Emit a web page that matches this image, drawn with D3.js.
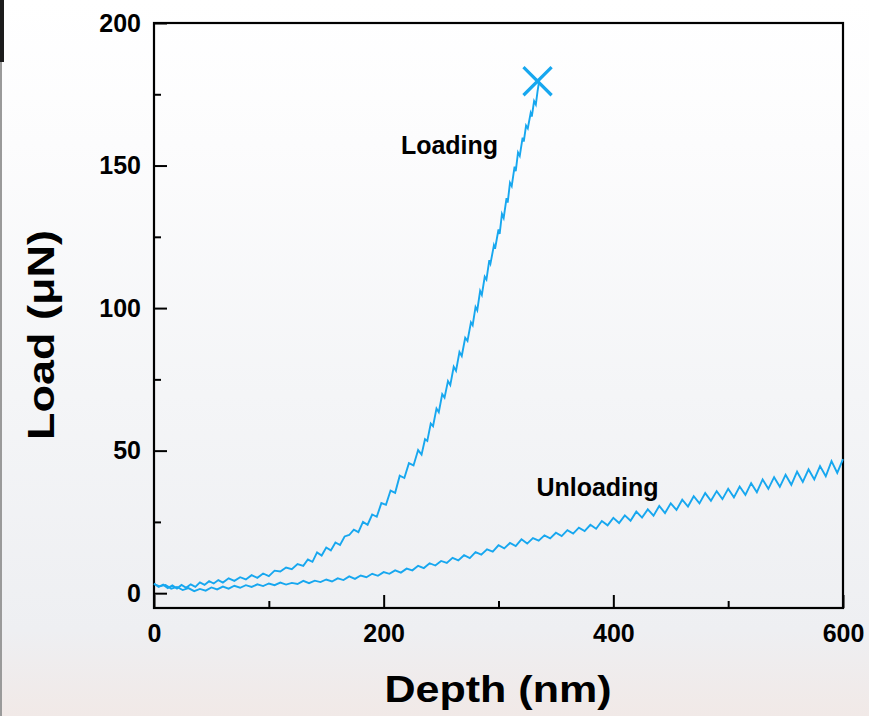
<!DOCTYPE html>
<html>
<head>
<meta charset="utf-8">
<script src="https://cdn.jsdelivr.net/npm/d3@7"></script>
<style>
  body { margin: 0; background: #f5f5f7; }
  .chart { width: 869px; height: 716px; }
  text { font-family: "Liberation Sans", Arial, sans-serif; font-weight: bold; fill: #000; }
  .tick line { stroke: #000; stroke-width: 2; }
  .domain { stroke: none; }
</style>
</head>
<body>
<div class="chart"></div>
<script>
// depth (nm), load (uN)
var loading = [
  [0,3.4],[4,2.2],[8,3.0],[12,1.8],[16,2.7],[20,1.6],[24,2.9],[28,1.9],[32,3.1],[36,2.2],
  [40,3.8],[44,2.9],[48,4.2],[52,3.4],[56,4.6],[60,3.7],[65,5.2],[70,4.3],[75,5.6],[80,4.8],
  [85,6.3],[90,5.4],[95,6.9],[100,6.0],[105,7.9],[110,7.6],[115,9.0],[120,8.4],[125,10.2],[130,9.6],
  [134,11.8],[138,11.0],[142,14.3],[146,13.2],[150,16.0],[154,15.0],[158,17.8],[162,16.9],[166,19.9],[170,20.4],
  [174,22.3],[178,21.4],[182,25.0],[186,24.0],[190,27.6],[194,26.8],[198,31.6],[202,31.0],[206,36.0],[210,35.2],
  [214,41.2],[218,40.4],[222,45.6],[226,44.8],[230,50.2],[233,48.6],[236,54.0],[238,53.4],[241,59.5],[243,58.6],
  [246,64.8],[248,63.5],[251,69.8],[253,68.6],[256,74.4],[258,73.0],[261,79.4],[263,78.0],[266,84.6],[268,83.2],
  [271,89.6],[273,88.5],[276,95.0],[277.5,94.0],[280,100.4],[281.5,99.2],[284,106.0],[285.5,104.6],[288,111.0],[289.5,110.0],
  [292,116.8],[293,115.6],[296,122.0],[297,120.8],[300,127.6],[301,126.0],[303,133.0],[304.5,131.6],[307,138.6],[308,137.0],
  [310,144.0],[311.5,142.8],[314,149.6],[315,148.0],[317,154.6],[318.5,153.4],[321,159.8],[322,158.4],[324,164.0],[325.5,163.0],
  [328,168.4],[329,167.2],[331,172.6],[332.5,171.4],[334,176.0],[335,178.6]
];

var unloading = [
  [0,3.2],[5,2.4],[10,2.9],[15,1.6],[20,2.2],[25,1.1],[30,1.8],[35,0.7],[40,1.5],[45,0.9],
  [50,2.0],[55,1.3],[60,2.3],[65,1.6],[70,2.6],[75,1.9],[80,2.8],[85,2.2],[90,3.1],[95,2.5],
  [100,3.4],[105,2.8],[110,3.7],[115,3.0],[120,3.6],[125,3.2],[130,4.3],[135,3.5],[140,4.4],[145,3.9],
  [150,4.8],[155,4.1],[160,5.2],[165,4.6],[170,5.9],[175,5.0],[180,6.2],[185,5.6],[190,6.8],[195,6.1],
  [200,7.4],[205,6.8],[210,8.0],[215,7.2],[220,8.6],[225,8.0],[230,9.6],[235,8.8],[240,10.5],[245,9.7],
  [250,11.3],[255,10.6],[260,12.4],[265,11.5],[270,13.3],[275,12.3],[280,14.4],[285,13.5],[290,15.4],[295,14.6],
  [300,16.8],[305,15.7],[310,17.6],[315,16.5],[320,18.9],[325,17.4],[330,19.3],[335,18.4],[340,20.3],[345,19.2],
  [350,21.2],[355,20.0],[360,22.1],[365,20.9],[370,23.0],[375,21.8],[380,24.0],[385,22.6],[390,25.3],[395,23.8],
  [400,26.4],[405,24.6],[410,27.3],[415,25.4],[420,28.6],[425,26.5],[430,29.4],[435,27.2],[440,30.6],[445,28.1],
  [450,31.5],[455,29.2],[460,32.8],[465,30.4],[470,34.0],[475,31.5],[480,35.1],[485,32.4],[490,35.8],[495,33.0],
  [500,36.6],[505,33.6],[510,37.4],[515,34.5],[520,38.6],[525,35.4],[530,39.9],[535,36.6],[540,40.7],[545,37.3],
  [550,41.5],[555,38.0],[560,42.6],[565,39.0],[570,43.4],[575,39.9],[580,44.6],[585,41.0],[590,46.3],[595,42.2],
  [600,47.0]
];

var breakPoint = [334, 179.6];

var xMajor = [0, 200, 400, 600];
var xMinor = [100, 300, 500];
var yMajor = [0, 50, 100, 150, 200];
var yMinor = [25, 75, 125, 175];

var labels = [
  {text: 'Loading', d: 215, l: 154},
  {text: 'Unloading', d: 333, l: 34}
];

var blue = '#17a7ef';

var svg = d3
.select('div.chart')
.append('svg')
.attr('width', 869)
.attr('height', 716)
;

// washed-out screenshot background
var grad = svg.append('defs')
.append('linearGradient')
.attr('id', 'bg')
.attr('x1', 0).attr('y1', 0).attr('x2', 0).attr('y2', 1)
;
grad.append('stop').attr('offset', 0).attr('stop-color', '#ffffff');
grad.append('stop').attr('offset', 0.2).attr('stop-color', '#fcfcfd');
grad.append('stop').attr('offset', 0.55).attr('stop-color', '#f4f5f7');
grad.append('stop').attr('offset', 0.88).attr('stop-color', '#eeeff2');
grad.append('stop').attr('offset', 1).attr('stop-color', '#f1e9e7');

svg.append('rect')
.attr('width', 869)
.attr('height', 716)
.attr('fill', 'url(#bg)')
;
svg.append('rect').attr('x', 0).attr('y', 0).attr('width', 2).attr('height', 716).attr('fill', '#9a9a9a');
svg.append('rect').attr('x', 0).attr('y', 0).attr('width', 4).attr('height', 62).attr('fill', '#1c1c1c');

var x = d3.scaleLinear()
.domain([0, 600])
.range([154, 843])
;

var y = d3.scaleLinear()
.domain([-5.2, 200])
.range([608, 23])
;

// minor ticks first, then majors with labels
svg.append('g')
.attr('transform', 'translate(0,608)')
.call(d3.axisBottom(x).tickValues(xMinor).tickSize(-7).tickFormat(''))
;
svg.append('g')
.attr('class', 'x-axis')
.attr('transform', 'translate(0,608)')
.call(d3.axisBottom(x).tickValues(xMajor).tickSize(-13).tickSizeOuter(0).tickPadding(16).tickFormat(d3.format('d')))
.selectAll('text')
.style('font-size', '25px')
;

svg.append('g')
.attr('transform', 'translate(154,0)')
.call(d3.axisLeft(y).tickValues(yMinor).tickSize(-7).tickFormat(''))
;
svg.append('g')
.attr('class', 'y-axis')
.attr('transform', 'translate(154,0)')
.call(d3.axisLeft(y).tickValues(yMajor).tickSize(-13).tickSizeOuter(0).tickPadding(13).tickFormat(d3.format('d')))
.selectAll('text')
.style('font-size', '25px')
;

// frame
svg.append('rect')
.attr('x', x.range()[0])
.attr('y', y.range()[1])
.attr('width', x.range()[1] - x.range()[0])
.attr('height', y.range()[0] - y.range()[1])
.attr('fill', 'none')
.attr('stroke', '#000')
.attr('stroke-width', 2.2)
;

var line = d3.line()
.x(function(d){return x(d[0])})
.y(function(d){return y(d[1])})
;

svg.selectAll('.curve')
.data([loading, unloading])
.enter()
.append('path')
.attr('class', 'curve')
.attr('d', line)
.attr('fill', 'none')
.attr('stroke', blue)
.attr('stroke-width', 1.9)
.attr('stroke-linejoin', 'miter')
;

svg.append('path')
.attr('d', d3.symbol().type(d3.symbolX).size(520))
.attr('transform', 'translate(' + x(breakPoint[0]) + ',' + y(breakPoint[1]) + ')')
.attr('fill', 'none')
.attr('stroke', blue)
.attr('stroke-width', 3.2)
;

svg.selectAll('.note')
.data(labels)
.enter()
.append('text')
.attr('class', 'note')
.attr('x', function(d){return x(d.d)})
.attr('y', function(d){return y(d.l)})
.style('font-size', '25px')
.text(function(d){return d.text})
;

svg.append('text')
.attr('x', 498)
.attr('y', 702)
.attr('text-anchor', 'middle')
.attr('textLength', 227)
.attr('lengthAdjust', 'spacingAndGlyphs')
.style('font-size', '36px')
.text('Depth (nm)')
;

svg.append('text')
.attr('transform', 'translate(54,335) rotate(-90)')
.attr('text-anchor', 'middle')
.attr('textLength', 210)
.attr('lengthAdjust', 'spacingAndGlyphs')
.style('font-size', '37px')
.text('Load (μN)')
;
</script>
</body>
</html>
